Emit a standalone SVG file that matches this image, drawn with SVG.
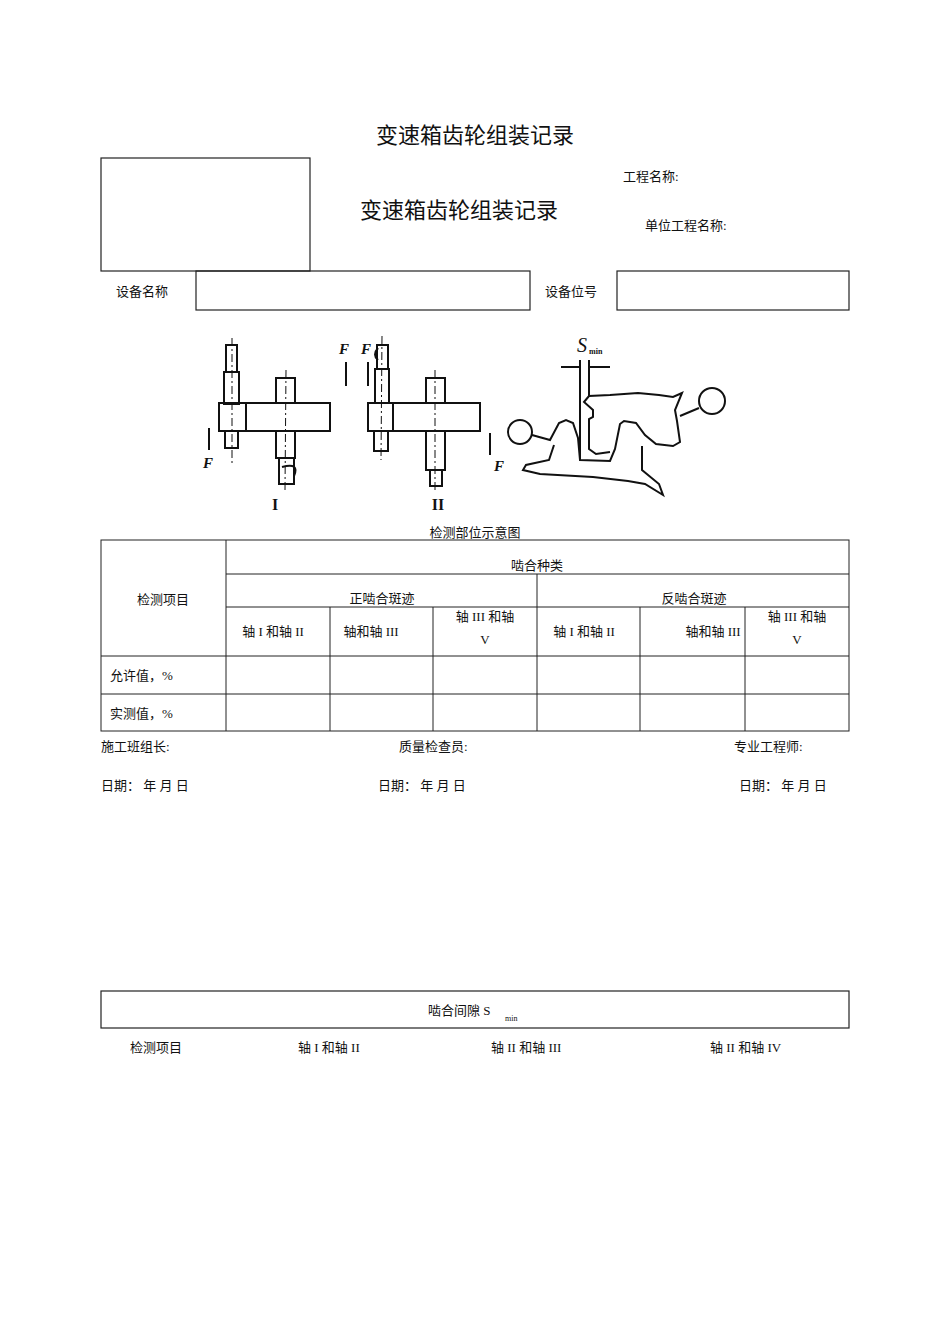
<svg xmlns="http://www.w3.org/2000/svg" width="950" height="1344" viewBox="0 0 950 1344">
<style>
text{font-family:"Liberation Serif","Noto Sans CJK SC",serif;fill:#111}
.s{font-size:13px}.t{font-size:22px}
.b{fill:none;stroke:#222;stroke-width:1.2}
.d{fill:none;stroke:#111;stroke-width:2}
.c{stroke:#111;stroke-width:1;stroke-dasharray:8 3 2 3}
.f{font-style:italic;font-weight:bold;font-size:15px}
</style>
<rect width="950" height="1344" fill="#fff"/>
<text class="t" x="475" y="143" text-anchor="middle">变速箱齿轮组装记录</text>
<g id="header">
<rect class="b" x="101" y="158" width="209" height="113"/>
<text class="t" x="459" y="218" text-anchor="middle">变速箱齿轮组装记录</text>
<text class="s" x="623" y="181">工程名称:</text>
<text class="s" x="645" y="230">单位工程名称:</text>
<text class="s" x="116" y="296">设备名称</text>
<rect class="b" x="196" y="271" width="334" height="39"/>
<text class="s" x="545" y="296">设备位号</text>
<rect class="b" x="617" y="271" width="232" height="39"/>
</g>
<g id="figure">
<line class="c" x1="232" y1="338" x2="232" y2="465"/>
<rect class="d" x="226" y="345" width="11" height="27"/>
<rect class="d" x="224" y="372" width="15" height="32"/>
<rect class="d" x="219" y="403" width="27" height="28"/>
<rect class="d" x="225" y="431" width="13" height="17"/>
<rect class="d" x="246" y="403" width="84" height="28"/>
<line class="c" x1="286" y1="370" x2="285" y2="490"/>
<rect class="d" x="276" y="378" width="19" height="25"/>
<rect class="d" x="276" y="431" width="19" height="27"/>
<rect class="d" x="279" y="458" width="15" height="26"/>
<path class="d" d="M282 467 Q300 462 294 476"/>
<line class="d" x1="209" y1="428" x2="209" y2="450"/>
<text class="f" x="203" y="468">F</text>
<text class="f" x="339" y="354">F</text>
<text class="f" x="361" y="354">F</text>
<line class="d" x1="346" y1="362" x2="346" y2="386"/>
<line class="d" x1="368" y1="362" x2="368" y2="386"/>
<line class="c" x1="382" y1="336" x2="381" y2="460"/>
<rect class="d" x="377" y="345" width="11" height="24"/>
<path class="d" d="M378 348 Q372 355 378 360"/>
<rect class="d" x="375" y="369" width="14" height="34"/>
<rect class="d" x="368" y="403" width="25" height="28"/>
<rect class="d" x="374" y="431" width="14" height="20"/>
<rect class="d" x="393" y="403" width="87" height="28"/>
<line class="c" x1="435" y1="370" x2="435" y2="490"/>
<rect class="d" x="426" y="378" width="19" height="25"/>
<rect class="d" x="426" y="431" width="19" height="39"/>
<rect class="d" x="430" y="470" width="12" height="16"/>
<text x="275" y="510" font-weight="bold" font-size="16" text-anchor="middle">I</text>
<text x="438" y="510" font-weight="bold" font-size="16" text-anchor="middle">II</text>
<line class="d" x1="490" y1="433" x2="490" y2="455"/>
<text class="f" x="494" y="471">F</text>
<text x="577" y="352" font-style="italic" font-size="20">S</text>
<text x="589" y="354" font-weight="bold" font-size="8">min</text>
<path class="d" d="M561 367 H580 M589 367 H610 M580 360 V460 M589 360 V396"/>
<circle class="d" cx="520" cy="432" r="12"/>
<circle class="d" cx="712" cy="401" r="13"/>
<path class="d" d="M532 435 L550 440 L559 423 L566 420 L573 423 L578 438 L580 460 L610 461 L615 449 L620 424 L624 421 L636 423 L645 435 L656 444 L673 446 L680 442 L677 421 L675 410 L682 393 L673 397 L659 395 L638 393 L610 395 L589 396 L584 402 L593 410 L593 417 L589 419 L589 449 L596 454 L610 452"/>
<path class="d" d="M699 408 L680 416"/>
<path class="d" d="M554 445 L549 460 L526 465 L523 470 L540 474 L593 477 L628 481 L645 484 L663 495 L659 484 L642 470 L642 446"/>
<text class="s" x="475" y="537" text-anchor="middle">检测部位示意图</text>
</g>
<g id="table1" fill="none" stroke="#222" stroke-width="1">
<rect x="101" y="540" width="748" height="191"/>
<line x1="226" y1="540" x2="226" y2="731"/>
<line x1="226" y1="574" x2="849" y2="574"/>
<line x1="226" y1="607" x2="849" y2="607"/>
<line x1="101" y1="656" x2="849" y2="656"/>
<line x1="101" y1="694" x2="849" y2="694"/>
<line x1="537" y1="574" x2="537" y2="731"/>
<line x1="330" y1="607" x2="330" y2="731"/>
<line x1="433" y1="607" x2="433" y2="731"/>
<line x1="640" y1="607" x2="640" y2="731"/>
<line x1="745" y1="607" x2="745" y2="731"/>
</g>
<g id="table1text">
<text class="s" x="537" y="570" text-anchor="middle">啮合种类</text>
<text class="s" x="163" y="604" text-anchor="middle">检测项目</text>
<text class="s" x="382" y="603" text-anchor="middle">正啮合斑迹</text>
<text class="s" x="694" y="603" text-anchor="middle">反啮合斑迹</text>
<text class="s" x="273" y="636" text-anchor="middle">轴 I 和轴 II</text>
<text class="s" x="371" y="636" text-anchor="middle">轴和轴 III</text>
<text class="s" x="485" y="621" text-anchor="middle">轴 III 和轴</text>
<text class="s" x="485" y="644" text-anchor="middle">V</text>
<text class="s" x="584" y="636" text-anchor="middle">轴 I 和轴 II</text>
<text class="s" x="713" y="636" text-anchor="middle">轴和轴 III</text>
<text class="s" x="797" y="621" text-anchor="middle">轴 III 和轴</text>
<text class="s" x="797" y="644" text-anchor="middle">V</text>
<text class="s" x="110" y="680">允许值，%</text>
<text class="s" x="110" y="718">实测值，%</text>
</g>
<g id="signatures">
<text class="s" x="101" y="751">施工班组长:</text>
<text class="s" x="399" y="751">质量检查员:</text>
<text class="s" x="734" y="751">专业工程师:</text>
<text class="s" x="101" y="790">日期：  年  月  日</text>
<text class="s" x="378" y="790">日期：  年  月  日</text>
<text class="s" x="739" y="790">日期：  年  月  日</text>
</g>
<g id="table2">
<rect x="101" y="991" width="748" height="37" fill="none" stroke="#222" stroke-width="1.2"/>
<text class="s" x="428" y="1015">啮合间隙 S</text>
<text x="505" y="1021" font-size="8" font-family="Liberation Mono,monospace">min</text>
<text class="s" x="130" y="1052">检测项目</text>
<text class="s" x="298" y="1052">轴 I 和轴 II</text>
<text class="s" x="491" y="1052">轴 II 和轴 III</text>
<text class="s" x="710" y="1052">轴 II 和轴 IV</text>
</g>
</svg>
